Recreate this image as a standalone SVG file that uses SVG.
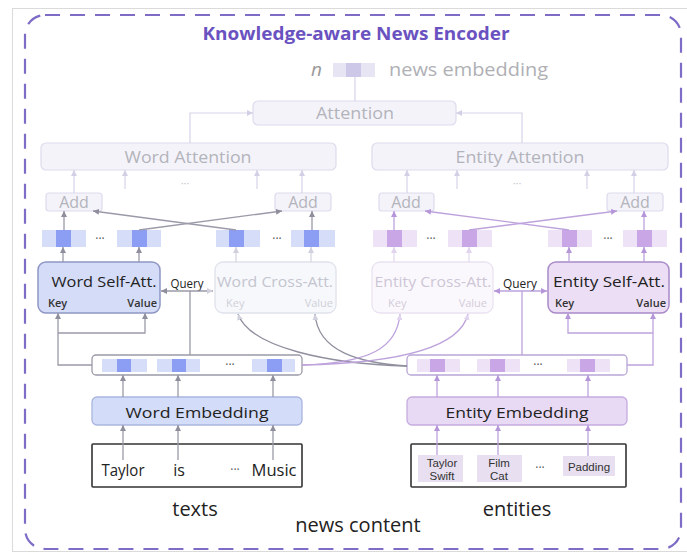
<svg xmlns="http://www.w3.org/2000/svg" width="687" height="554" viewBox="0 0 687 554">
  <style>
    text { font-family: "Open Sans", "Noto Sans", "DejaVu Sans", sans-serif; }
    .ghost-box { fill: #f4f3fa; stroke: #dedbed; stroke-width: 1.2; }
    .ghost-txt { fill: #b3b3bb; font-size: 16px; }
    .ghost-ln { fill: none; stroke: #d7d4e8; stroke-width: 1.2; }
    .g-ln { fill: none; stroke: #9a9aa8; stroke-width: 1.3; }
    .g-light { fill: none; stroke: #d3d4de; stroke-width: 1.2; }
    .p-ln { fill: none; stroke: #bda2dc; stroke-width: 1.3; }
    .p-light { fill: none; stroke: #e3d8ef; stroke-width: 1.2; }
    .w-lt { fill: #d6ddf8; }
    .w-dk { fill: #8c9ef4; }
    .e-lt { fill: #eee3f6; }
    .e-dk { fill: #c9a7e6; }
    .dots { fill: #555; font-size: 12px; text-anchor: middle; }
    .lbl { fill: #222; font-size: 15px; text-anchor: middle; }
    .lbl-w-ghost { fill: #c4c5cf; font-size: 15px; text-anchor: middle; }
    .lbl-e-ghost { fill: #cdc6d6; font-size: 15px; text-anchor: middle; }
    .kv { fill: #333; font-size: 11px; font-weight: 600; }
    .kv-w-ghost { fill: #cfd0d8; font-size: 11px; }
    .kv-e-ghost { fill: #d3ccdb; font-size: 11px; }
    .big { fill: #222; font-size: 20px; text-anchor: middle; }
    .tok { fill: #222; font-size: 16px; text-anchor: middle; }
    .ent { fill: #333; font-family: "Liberation Sans", Arial, sans-serif; font-size: 11.5px; text-anchor: middle; }
  </style>
  <defs>
    <marker id="ah-ghost" markerUnits="userSpaceOnUse" markerWidth="6" markerHeight="6" refX="6" refY="3" orient="auto-start-reverse">
      <path d="M0,0 L6,3 L0,6 z" fill="#d3d0e6"/>
    </marker>
    <marker id="ah-grey" markerUnits="userSpaceOnUse" markerWidth="6" markerHeight="6" refX="6" refY="3" orient="auto-start-reverse">
      <path d="M0,0 L6,3 L0,6 z" fill="#8e8e9c"/>
    </marker>
    <marker id="ah-light" markerUnits="userSpaceOnUse" markerWidth="6" markerHeight="6" refX="6" refY="3" orient="auto-start-reverse">
      <path d="M0,0 L6,3 L0,6 z" fill="#d0d1dc"/>
    </marker>
    <marker id="ah-purple" markerUnits="userSpaceOnUse" markerWidth="6" markerHeight="6" refX="6" refY="3" orient="auto-start-reverse">
      <path d="M0,0 L6,3 L0,6 z" fill="#b596d8"/>
    </marker>
    <marker id="ah-plight" markerUnits="userSpaceOnUse" markerWidth="6" markerHeight="6" refX="6" refY="3" orient="auto-start-reverse">
      <path d="M0,0 L6,3 L0,6 z" fill="#e0d4ee"/>
    </marker>
  </defs>

  <rect x="0" y="0" width="687" height="554" fill="#ffffff"/>
  <!-- page frame -->
  <rect x="12.5" y="8.5" width="690" height="543" fill="none" stroke="#dadada" stroke-width="1"/>

  <!-- encoder boundary -->
  <g id="encoder-frame">
    <rect x="25" y="15" width="656" height="534" rx="20" fill="none" stroke="#7e6cc6" stroke-width="2.2" stroke-dasharray="15 10"/>
    <text x="356" y="40" font-size="18" font-weight="700" fill="#6a52c0" text-anchor="middle" textLength="307" lengthAdjust="spacingAndGlyphs">Knowledge-aware News Encoder</text>
  </g>

  <!-- news embedding output -->
  <g id="news-embedding">
    <text x="311" y="76" font-family="'Liberation Serif', serif" font-style="italic" font-size="19" fill="#999">n</text>
    <rect x="333" y="63" width="42" height="14" fill="#e7e5f4"/>
    <rect x="346" y="63" width="15" height="14" fill="#cdc8e8"/>
    <text x="389" y="76" font-size="18" fill="#b0b0b5" textLength="159" lengthAdjust="spacingAndGlyphs">news embedding</text>
  </g>

  <g id="attention">
    <rect class="ghost-box" x="253" y="101" width="203" height="24" rx="5"/>
    <text class="ghost-txt" x="355" y="119" text-anchor="middle" textLength="78" lengthAdjust="spacingAndGlyphs">Attention</text>
  </g>

  <g id="word-attention">
    <rect class="ghost-box" x="41" y="143" width="295" height="27" rx="5"/>
    <text class="ghost-txt" x="188" y="163" text-anchor="middle" textLength="127" lengthAdjust="spacingAndGlyphs">Word Attention</text>
    <text x="185" y="187" font-size="11" fill="#c4c4cc" text-anchor="middle">···</text>
  </g>

  <g id="entity-attention">
    <rect class="ghost-box" x="372" y="143" width="296" height="27" rx="5"/>
    <text class="ghost-txt" x="520" y="163" text-anchor="middle" textLength="129" lengthAdjust="spacingAndGlyphs">Entity Attention</text>
    <text x="517" y="187" font-size="11" fill="#c4c4cc" text-anchor="middle">···</text>
  </g>

  <g id="word-add-1">
    <rect class="ghost-box" x="46" y="193" width="56" height="18" rx="3"/>
    <text class="ghost-txt" x="74" y="208" text-anchor="middle">Add</text>
  </g>
  <g id="word-add-2">
    <rect class="ghost-box" x="275" y="193" width="56" height="18" rx="3"/>
    <text class="ghost-txt" x="303" y="208" text-anchor="middle">Add</text>
  </g>
  <g id="entity-add-1">
    <rect class="ghost-box" x="379" y="193" width="55" height="18" rx="3"/>
    <text class="ghost-txt" x="406" y="208" text-anchor="middle">Add</text>
  </g>
  <g id="entity-add-2">
    <rect class="ghost-box" x="607" y="193" width="56" height="18" rx="3"/>
    <text class="ghost-txt" x="635" y="208" text-anchor="middle">Add</text>
  </g>

  <!-- attended word / entity vectors -->
  <g id="word-vectors">
    <rect class="w-lt" x="42" y="230" width="44" height="17"/><rect class="w-dk" x="56" y="230" width="15" height="17"/>
    <text class="dots" x="100" y="243">···</text>
    <rect class="w-lt" x="117" y="230" width="44" height="17"/><rect class="w-dk" x="132" y="230" width="15" height="17"/>
    <rect class="w-lt" x="216" y="230" width="44" height="17"/><rect class="w-dk" x="229" y="230" width="15" height="17"/>
    <text class="dots" x="277" y="243">···</text>
    <rect class="w-lt" x="291" y="230" width="44" height="17"/><rect class="w-dk" x="304" y="230" width="15" height="17"/>
  </g>
  <g id="entity-vectors">
    <rect class="e-lt" x="373" y="230" width="44" height="17"/><rect class="e-dk" x="387" y="230" width="15" height="17"/>
    <text class="dots" x="431" y="243">···</text>
    <rect class="e-lt" x="448" y="230" width="44" height="17"/><rect class="e-dk" x="462" y="230" width="15" height="17"/>
    <rect class="e-lt" x="548" y="230" width="44" height="17"/><rect class="e-dk" x="562" y="230" width="15" height="17"/>
    <text class="dots" x="608" y="243">···</text>
    <rect class="e-lt" x="623" y="230" width="44" height="17"/><rect class="e-dk" x="637" y="230" width="15" height="17"/>
  </g>

  <g id="word-self-att">
    <rect x="38" y="262" width="122" height="51" rx="8" fill="#d5dcf8" stroke="#8d96c4" stroke-width="1.5"/>
    <text class="lbl" x="104" y="287" textLength="105" lengthAdjust="spacingAndGlyphs">Word Self-Att.</text>
    <text class="kv" x="48" y="307">Key</text>
    <text class="kv" x="157" y="307" text-anchor="end">Value</text>
  </g>

  <g id="word-cross-att">
    <rect x="215" y="262" width="121" height="51" rx="8" fill="#f7f8fc" stroke="#e0e2ec" stroke-width="1.3"/>
    <text class="lbl-w-ghost" x="275" y="287" textLength="116" lengthAdjust="spacingAndGlyphs">Word Cross-Att.</text>
    <text class="kv-w-ghost" x="226" y="307">Key</text>
    <text class="kv-w-ghost" x="333" y="307" text-anchor="end">Value</text>
  </g>

  <g id="entity-cross-att">
    <rect x="372" y="262" width="121" height="51" rx="8" fill="#fbf8fd" stroke="#eae2f2" stroke-width="1.3"/>
    <text class="lbl-e-ghost" x="433" y="287" textLength="117" lengthAdjust="spacingAndGlyphs">Entity Cross-Att.</text>
    <text class="kv-e-ghost" x="388" y="307">Key</text>
    <text class="kv-e-ghost" x="487" y="307" text-anchor="end">Value</text>
  </g>

  <g id="entity-self-att">
    <rect x="548" y="262" width="121" height="51" rx="8" fill="#ecdff5" stroke="#a88bc8" stroke-width="1.5"/>
    <text class="lbl" x="609" y="287" textLength="112" lengthAdjust="spacingAndGlyphs">Entity Self-Att.</text>
    <text class="kv" x="555" y="307">Key</text>
    <text class="kv" x="666" y="307" text-anchor="end">Value</text>
  </g>

  <g id="word-query">
    <text x="187" y="288" fill="#222" font-size="12.5" text-anchor="middle" textLength="33" lengthAdjust="spacingAndGlyphs">Query</text>
  </g>
  <g id="entity-query">
    <text x="520" y="288" fill="#222" font-size="12.5" text-anchor="middle" textLength="34" lengthAdjust="spacingAndGlyphs">Query</text>
  </g>

  <g id="word-sequence">
    <rect x="92" y="355" width="210" height="20" rx="4" fill="#fff" stroke="#9a9aa8" stroke-width="1.3"/>
    <rect class="w-lt" x="102" y="359" width="45" height="13"/><rect class="w-dk" x="117" y="359" width="14" height="13"/>
    <rect class="w-lt" x="157" y="359" width="43" height="13"/><rect class="w-dk" x="172" y="359" width="14" height="13"/>
    <text class="dots" x="230" y="369">···</text>
    <rect class="w-lt" x="252" y="359" width="43" height="13"/><rect class="w-dk" x="267" y="359" width="15" height="13"/>
  </g>

  <g id="entity-sequence">
    <rect x="407" y="355" width="220" height="20" rx="4" fill="#fff" stroke="#b8a6d6" stroke-width="1.3"/>
    <rect class="e-lt" x="417" y="359" width="43" height="13"/><rect class="e-dk" x="430" y="359" width="15" height="13"/>
    <rect class="e-lt" x="477" y="359" width="43" height="13"/><rect class="e-dk" x="490" y="359" width="15" height="13"/>
    <text class="dots" x="538" y="369">···</text>
    <rect class="e-lt" x="567" y="359" width="43" height="13"/><rect class="e-dk" x="580" y="359" width="15" height="13"/>
  </g>

  <g id="word-embedding">
    <rect x="92" y="397" width="210" height="28" rx="5" fill="#d3dcf8" stroke="#aab5df" stroke-width="1.3"/>
    <text class="lbl" x="197" y="418" font-size="16" textLength="143" lengthAdjust="spacingAndGlyphs">Word Embedding</text>
  </g>

  <g id="entity-embedding">
    <rect x="407" y="397" width="220" height="28" rx="5" fill="#e8daf4" stroke="#c5acdf" stroke-width="1.3"/>
    <text class="lbl" x="517" y="418" font-size="16" textLength="143" lengthAdjust="spacingAndGlyphs">Entity Embedding</text>
  </g>

  <g id="texts">
    <rect x="92" y="444" width="210" height="43" rx="1" fill="#fff" stroke="#333" stroke-width="1.6"/>
    <text class="tok" x="123" y="476" textLength="43" lengthAdjust="spacingAndGlyphs">Taylor</text>
    <text class="tok" x="179" y="476">is</text>
    <text class="dots" x="235" y="474">···</text>
    <text class="tok" x="274" y="476" textLength="45" lengthAdjust="spacingAndGlyphs">Music</text>
    <text class="big" x="195" y="516">texts</text>
  </g>

  <g id="entities">
    <rect x="411" y="444" width="215" height="43" rx="1" fill="#fff" stroke="#333" stroke-width="1.6"/>
    <rect x="418" y="455" width="45" height="27" fill="#e8e0f1"/>
    <rect x="477" y="455" width="45" height="27" fill="#e8e0f1"/>
    <rect x="563" y="456" width="52" height="20" fill="#e8e0f1"/>
    <text class="ent" x="442" y="466.5">Taylor</text>
    <text class="ent" x="442" y="479.5">Swift</text>
    <text class="ent" x="499" y="466.5">Film</text>
    <text class="ent" x="499" y="479.5">Cat</text>
    <text class="dots" x="540" y="472">···</text>
    <text class="ent" x="589" y="470.5" font-size="12.5">Padding</text>
    <text class="big" x="517" y="516">entities</text>
  </g>

  <g id="news-content">
    <text class="big" x="358" y="532" font-size="19.5">news content</text>
  </g>

  <!-- connectors -->
  <g id="connectors">
    <!-- top pooling -->
    <path class="ghost-ln" d="M355,77 V101"/>
    <path class="ghost-ln" d="M190,143 V113 H253" marker-end="url(#ah-ghost)"/>
    <path class="ghost-ln" d="M522,143 V113 H456" marker-end="url(#ah-ghost)"/>
    <path class="ghost-ln" d="M74,193 V170" marker-end="url(#ah-ghost)"/>
    <path class="ghost-ln" d="M125,189 V170" marker-end="url(#ah-ghost)"/>
    <path class="ghost-ln" d="M257,189 V170" marker-end="url(#ah-ghost)"/>
    <path class="ghost-ln" d="M302,193 V170" marker-end="url(#ah-ghost)"/>
    <path class="ghost-ln" d="M407,193 V170" marker-end="url(#ah-ghost)"/>
    <path class="ghost-ln" d="M457,189 V170" marker-end="url(#ah-ghost)"/>
    <path class="ghost-ln" d="M587,189 V170" marker-end="url(#ah-ghost)"/>
    <path class="ghost-ln" d="M634,193 V170" marker-end="url(#ah-ghost)"/>

    <!-- vectors into Add -->
    <path class="g-ln" d="M64,230 V211" marker-end="url(#ah-grey)"/>
    <path class="g-ln" d="M236,230 L93,211" marker-end="url(#ah-grey)"/>
    <path class="g-ln" d="M139,230 L282,211" marker-end="url(#ah-grey)"/>
    <path class="g-ln" d="M312,230 V211" marker-end="url(#ah-grey)"/>
    <path class="p-ln" d="M394,230 V211" marker-end="url(#ah-purple)"/>
    <path class="p-ln" d="M569,230 L425,211" marker-end="url(#ah-purple)"/>
    <path class="p-ln" d="M469,230 L617,211" marker-end="url(#ah-purple)"/>
    <path class="p-ln" d="M644,230 V211" marker-end="url(#ah-purple)"/>

    <!-- attention outputs up to vectors -->
    <path class="g-ln" d="M63,262 V247" marker-end="url(#ah-grey)"/>
    <path class="g-ln" d="M139,262 V247" marker-end="url(#ah-grey)"/>
    <path class="g-light" d="M236,262 V247" marker-end="url(#ah-light)"/>
    <path class="g-light" d="M311,262 V247" marker-end="url(#ah-light)"/>
    <path class="p-light" d="M394,262 V247" marker-end="url(#ah-plight)"/>
    <path class="p-light" d="M469,262 V247" marker-end="url(#ah-plight)"/>
    <path class="p-ln" d="M569,262 V247" marker-end="url(#ah-purple)"/>
    <path class="p-ln" d="M644,262 V247" marker-end="url(#ah-purple)"/>

    <!-- queries -->
    <path class="g-ln" d="M190,355 V291"/>
    <path class="g-ln" d="M161,291 H213" marker-start="url(#ah-grey)" marker-end="url(#ah-light)"/>
    <path class="p-ln" d="M522,355 V291"/>
    <path class="p-ln" d="M494,291 H547" marker-start="url(#ah-purple)" marker-end="url(#ah-purple)"/>

    <!-- self-attention keys / values -->
    <path class="g-ln" d="M92,365 H58 V313" marker-end="url(#ah-grey)"/>
    <path class="g-ln" d="M58,333 H145 V313" marker-end="url(#ah-grey)"/>
    <path class="p-ln" d="M627,365 H653 V313" marker-end="url(#ah-purple)"/>
    <path class="p-ln" d="M653,333 H568 V313" marker-end="url(#ah-purple)"/>

    <!-- cross-attention keys / values -->
    <path fill="none" stroke="#8f8f9e" stroke-width="1.3" d="M407,366 C330,364 250,348 238,314" marker-end="url(#ah-light)"/>
    <path fill="none" stroke="#8f8f9e" stroke-width="1.3" d="M407,366 C360,363 318,352 315,314" marker-end="url(#ah-light)"/>
    <path class="p-ln" d="M302,365 C370,363 397,348 400,314" marker-end="url(#ah-plight)"/>
    <path class="p-ln" d="M302,365 C400,363 460,348 468,314" marker-end="url(#ah-plight)"/>

    <!-- embedding lookups -->
    <path class="g-ln" d="M123,397 V375" marker-end="url(#ah-grey)"/>
    <path class="g-ln" d="M178,397 V375" marker-end="url(#ah-grey)"/>
    <path class="g-ln" d="M273,397 V375" marker-end="url(#ah-grey)"/>
    <path class="p-ln" d="M437,397 V375" marker-end="url(#ah-purple)"/>
    <path class="p-ln" d="M498,397 V375" marker-end="url(#ah-purple)"/>
    <path class="p-ln" d="M588,397 V375" marker-end="url(#ah-purple)"/>
    <path class="g-ln" d="M123,460 V425" marker-end="url(#ah-grey)"/>
    <path class="g-ln" d="M178,460 V425" marker-end="url(#ah-grey)"/>
    <path class="g-ln" d="M273,460 V425" marker-end="url(#ah-grey)"/>
    <path class="p-ln" d="M437,455 V425" marker-end="url(#ah-purple)"/>
    <path class="p-ln" d="M498,455 V425" marker-end="url(#ah-purple)"/>
    <path class="p-ln" d="M588,456 V425" marker-end="url(#ah-purple)"/>
  </g>
</svg>
